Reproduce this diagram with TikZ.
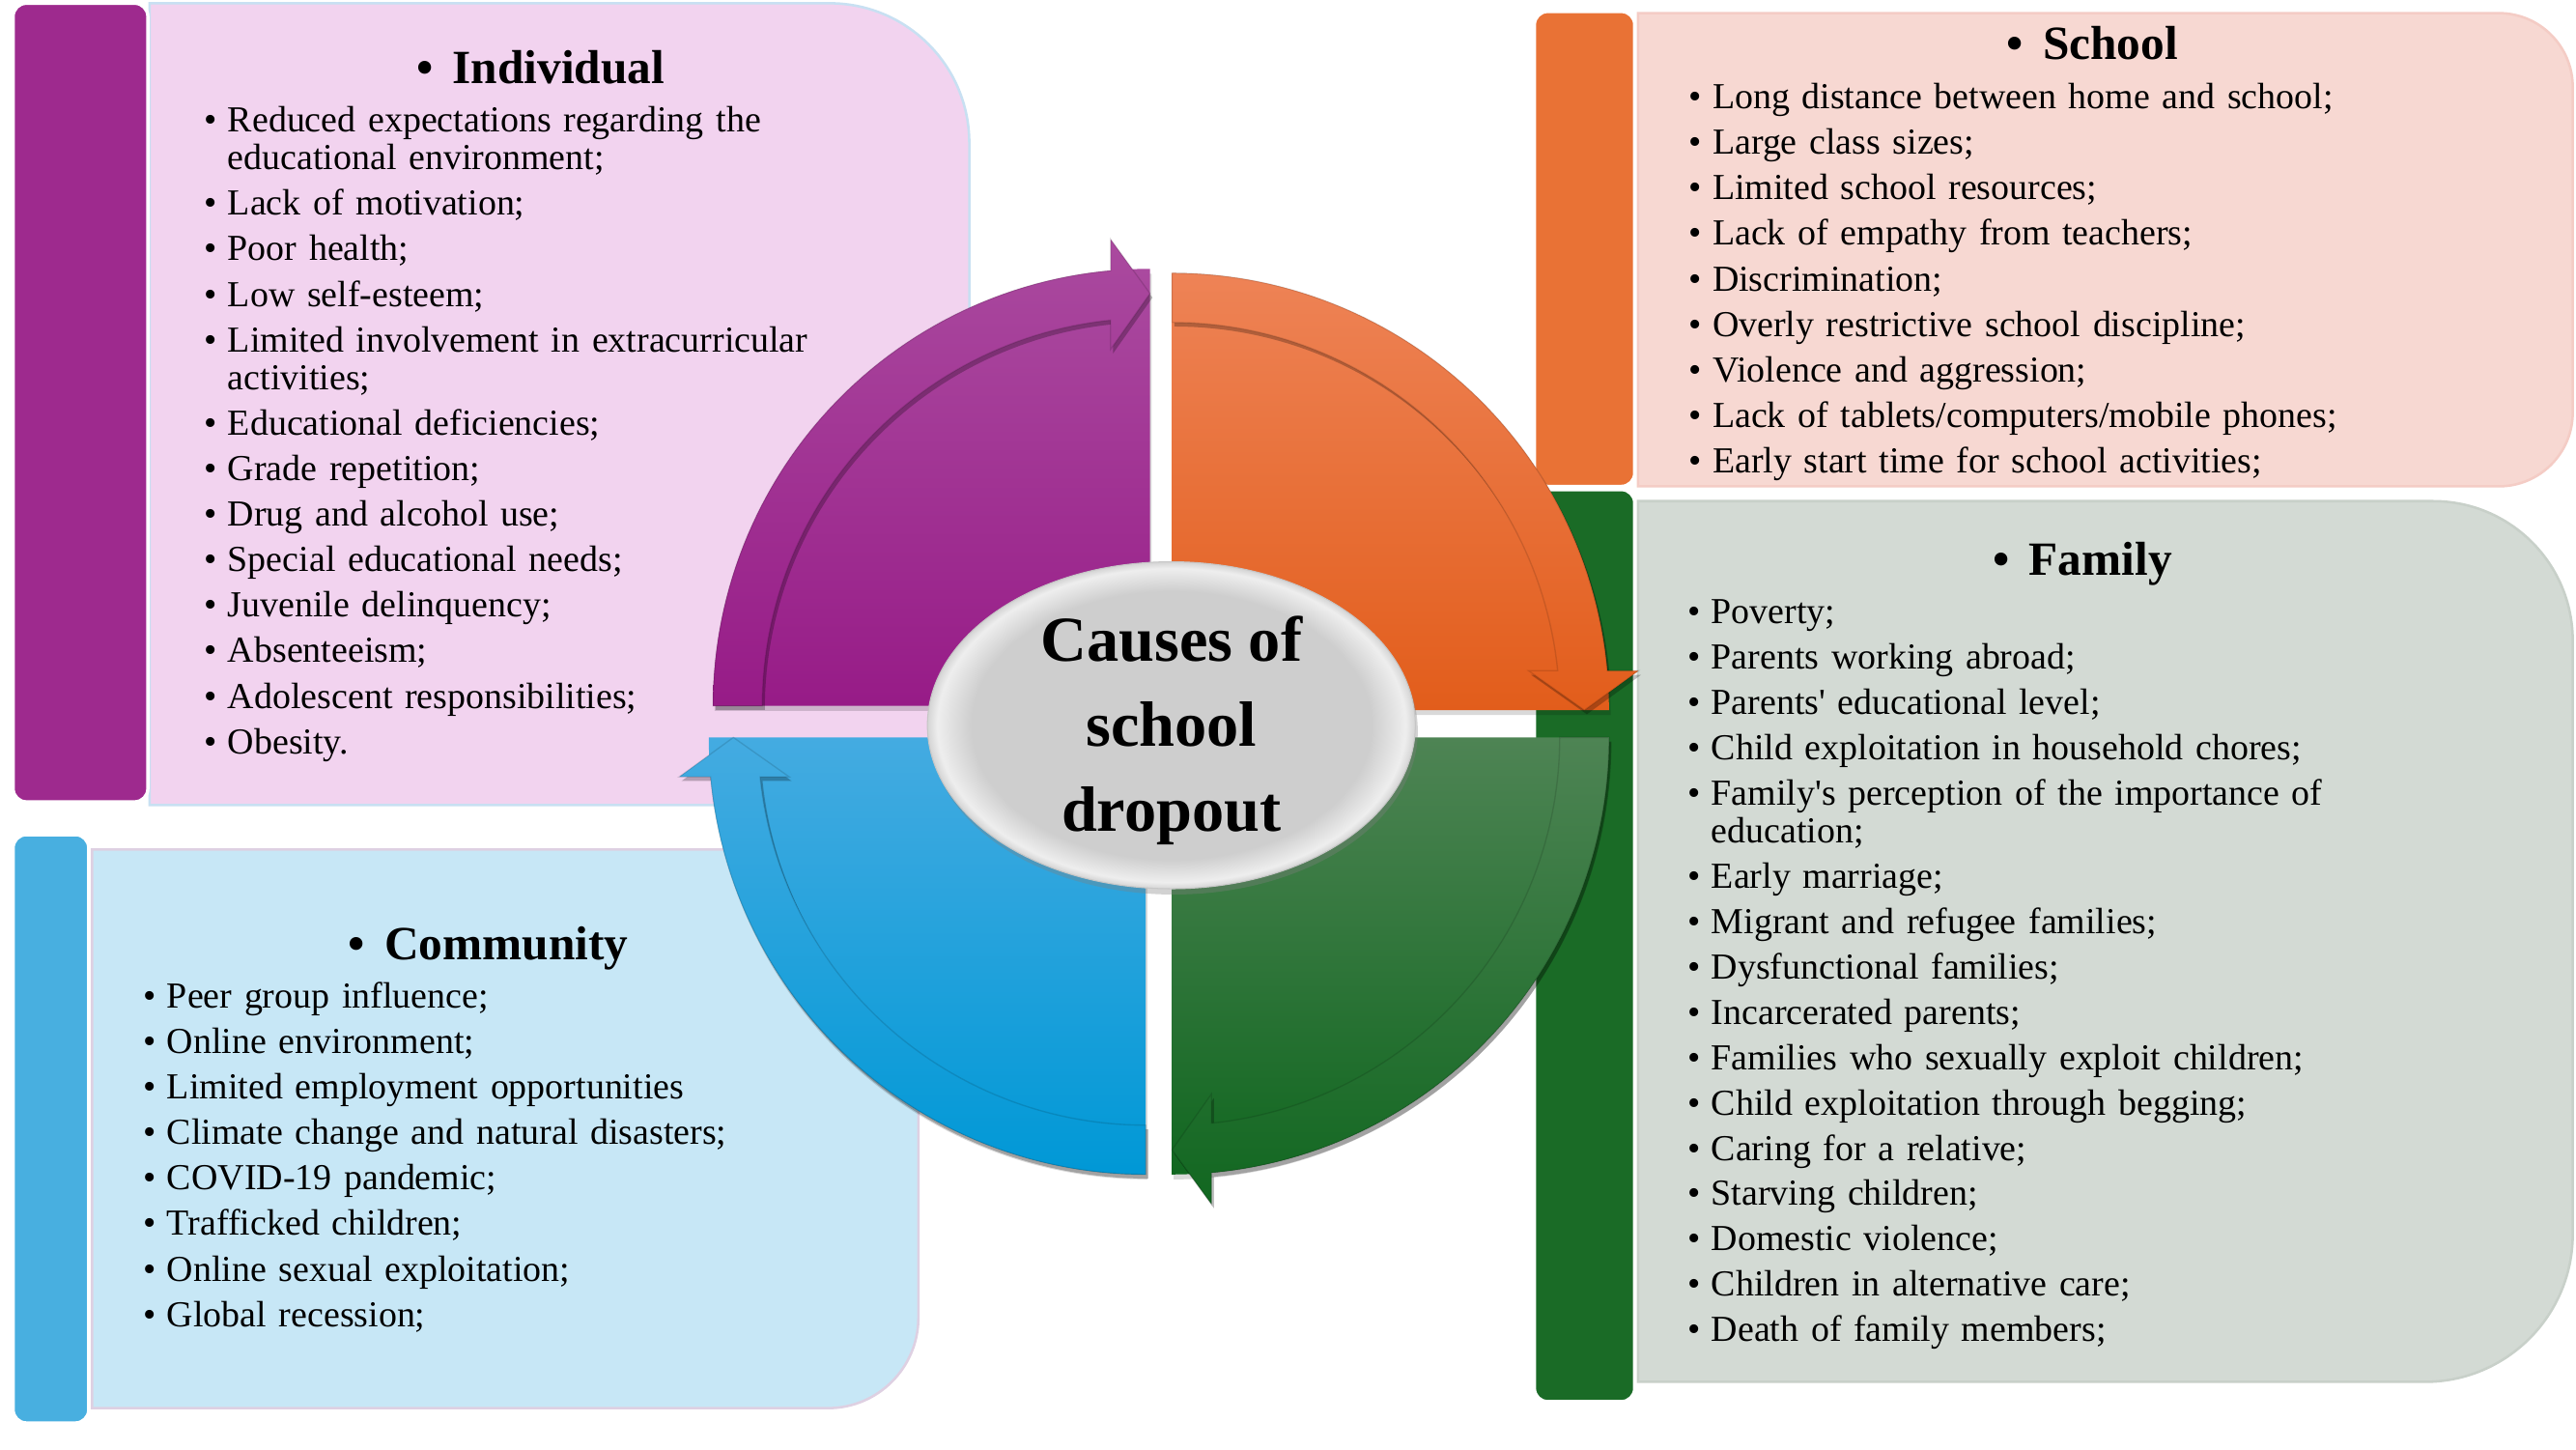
\documentclass[tikz,border=0pt]{standalone}
\usepackage{fontspec}
\setmainfont{Liberation Serif}
\usetikzlibrary{positioning,shapes.geometric,shadows}

\definecolor{indbar}{RGB}{158,42,142}
\definecolor{indfill}{RGB}{242,211,239}
\definecolor{indline}{RGB}{200,224,242}
\definecolor{schbar}{RGB}{233,114,53}
\definecolor{schfill}{RGB}{247,216,210}
\definecolor{schline}{RGB}{244,204,197}
\definecolor{fambar}{RGB}{26,107,38}
\definecolor{famfill}{RGB}{211,218,212}
\definecolor{famline}{RGB}{200,208,201}
\definecolor{combar}{RGB}{72,175,224}
\definecolor{comfill}{RGB}{199,231,246}
\definecolor{comline}{RGB}{222,208,226}
\definecolor{indtop}{RGB}{170,74,159}
\definecolor{indbot}{RGB}{151,27,135}
\definecolor{schtop}{RGB}{238,131,86}
\definecolor{schbot}{RGB}{226,93,27}
\definecolor{famtop}{RGB}{78,132,84}
\definecolor{fambot}{RGB}{17,103,32}
\definecolor{comtop}{RGB}{68,171,225}
\definecolor{combot}{RGB}{0,152,214}
\definecolor{coregray}{RGB}{206,206,206}
\definecolor{corerim}{RGB}{238,238,238}
\definecolor{coreedge}{RGB}{212,212,212}

\pgfdeclareradialshading{capsule}{\pgfpoint{0bp}{0bp}}{color(0bp)=(coregray); color(20.5bp)=(coregray); color(24bp)=(corerim); color(25bp)=(coreedge); color(50bp)=(coreedge)}

\newcommand{\itm}[1]{\hangindent=14.5pt\hangafter=1\makebox[14.5pt][l]{\textbullet}#1\par}

% one quarter of the cycle: corner x, corner y, start angle, top colour, bottom colour
\newcommand{\cyclepart}[5]{%
  \pgfmathsetmacro{\qE}{#3+90}%
  \pgfmathsetmacro{\qO}{#3+84.82}%
  \pgfmathsetmacro{\qI}{#3+84.16}%
  \pgfmathsetmacro{\qTx}{#1+251*cos(\qE)}%
  \pgfmathsetmacro{\qTy}{#2+251*sin(\qE)}%
  \pgfmathsetmacro{\qAx}{#1+284*cos(\qE)+24*cos(#3)}%
  \pgfmathsetmacro{\qAy}{#2+284*sin(\qE)+24*sin(#3)}%
  \pgfmathsetmacro{\qBx}{#1+217*cos(\qE)+24*cos(#3)}%
  \pgfmathsetmacro{\qBy}{#2+217*sin(\qE)+24*sin(#3)}%
  \fill[black, opacity=.15, shift={(1,3)}] (#1,#2) -- plot[domain=#3:\qE, samples=60] ({#1+266*cos(\x)},{#2+266*sin(\x)}) -- cycle;
  \shade[top color=#4, bottom color=#5] (#1,#2) -- plot[domain=#3:\qE, samples=60] ({#1+266*cos(\x)},{#2+266*sin(\x)}) -- cycle;
  \fill[black, opacity=.25, shift={(1.5,2.5)}] plot[domain=#3:\qO, samples=60] ({#1+266*cos(\x)},{#2+266*sin(\x)})
    -- (\qAx,\qAy) -- (\qTx,\qTy) -- (\qBx,\qBy) -- plot[domain=\qI:#3, samples=60] ({#1+236*cos(\x)},{#2+236*sin(\x)}) -- cycle;
  \shadedraw[top color=#4, bottom color=#5, draw=black, draw opacity=.12, line width=.8pt] plot[domain=#3:\qO, samples=60] ({#1+266*cos(\x)},{#2+266*sin(\x)})
    -- (\qAx,\qAy) -- (\qTx,\qTy) -- (\qBx,\qBy) -- plot[domain=\qI:#3, samples=60] ({#1+236*cos(\x)},{#2+236*sin(\x)}) -- cycle;
}

\begin{document}
\begin{tikzpicture}[x=1pt, y=-1pt,
    bar/.style={draw=white, line width=2pt, rounded corners=8pt},
    listtext/.style={anchor=base west, inner sep=0pt, text width=470pt, font=\fontsize{22.3}{23}\selectfont},
    headtext/.style={anchor=base, inner sep=0pt, font=\fontsize{29}{32}\selectfont\bfseries},
    core/.style={ellipse, minimum width=297pt, minimum height=199pt, inner sep=0pt,
        shade, shading=capsule, draw=gray!45, line width=.6pt,
        drop shadow={shadow xshift=1.5pt, shadow yshift=-3.5pt, opacity=.35}},
    coretext/.style={align=center, inner sep=0pt, font=\fontsize{39}{52}\selectfont\bfseries}]
    \fill[white] (0,0) rectangle (1568,882);
    \useasboundingbox (0,0) rectangle (1568,882);

    % panels
    \filldraw[fill=indfill, draw=indline, line width=1.5pt] (91,490) -- (91,2) -- (505,2) arc[start angle=90, end angle=0, radius=85pt] -- (590,490) -- cycle;
    \filldraw[fill=schfill, draw=schline, line width=1.5pt] (997,296) -- (997,8) -- (1521,8) arc[start angle=90, end angle=0, radius=45pt]
        -- (1566,251) arc[start angle=0, end angle=-90, radius=45pt] -- cycle;
    \filldraw[fill=famfill, draw=famline, line width=1.5pt] (997,841) -- (997,305) -- (1481,305) arc[start angle=90, end angle=0, radius=85pt]
        -- (1566,751) arc[start angle=0, end angle=-90, radius=90pt] -- cycle;
    \filldraw[fill=comfill, draw=comline, line width=1.5pt] (56,857) -- (56,517) -- (559,517) -- (559,802) arc[start angle=0, end angle=-90, radius=55pt] -- cycle;

    \filldraw[bar, fill=indbar] (8,2) rectangle (90,488);
    \filldraw[bar, fill=schbar] (934,7) rectangle (995,296);
    \filldraw[bar, fill=fambar] (934,298) rectangle (995,853);
    \filldraw[bar, fill=combar] (8,508) rectangle (54,866);

    \node[headtext] (indhead) at (329,51) {\textbullet\hspace{12pt}Individual};
    \node[listtext] (indlist) at (124,80.3) {\setlength{\parskip}{4.7pt}%
        \itm{Reduced expectations regarding the\newline educational environment;}
        \itm{Lack of motivation;}
        \itm{Poor health;}
        \itm{Low self-esteem;}
        \itm{Limited involvement in extracurricular\newline activities;}
        \itm{Educational deficiencies;}
        \itm{Grade repetition;}
        \itm{Drug and alcohol use;}
        \itm{Special educational needs;}
        \itm{Juvenile delinquency;}
        \itm{Absenteeism;}
        \itm{Adolescent responsibilities;}
        \itm{Obesity.}};

    \node[headtext] (schhead) at (1273.6,36.1) {\textbullet\hspace{12pt}School};
    \node[listtext] (schlist) at (1027.7,66.2) {\setlength{\parskip}{4.7pt}%
        \itm{Long distance between home and school;}
        \itm{Large class sizes;}
        \itm{Limited school resources;}
        \itm{Lack of empathy from teachers;}
        \itm{Discrimination;}
        \itm{Overly restrictive school discipline;}
        \itm{Violence and aggression;}
        \itm{Lack of tablets/computers/mobile phones;}
        \itm{Early start time for school activities;}};

    \node[headtext] (famhead) at (1267.5,350.3) {\textbullet\hspace{12pt}Family};
    \node[listtext] (famlist) at (1027,379.5) {\setlength{\parskip}{4.6pt}%
        \itm{Poverty;}
        \itm{Parents working abroad;}
        \itm{Parents\textquotesingle{} educational level;}
        \itm{Child exploitation in household chores;}
        \itm{Family\textquotesingle{}s perception of the importance of\newline education;}
        \itm{Early marriage;}
        \itm{Migrant and refugee families;}
        \itm{Dysfunctional families;}
        \itm{Incarcerated parents;}
        \itm{Families who sexually exploit children;}
        \itm{Child exploitation through begging;}
        \itm{Caring for a relative;}
        \itm{Starving children;}
        \itm{Domestic violence;}
        \itm{Children in alternative care;}
        \itm{Death of family members;}};

    \node[headtext] (comhead) at (297.2,584) {\textbullet\hspace{12pt}Community};
    \node[listtext] (comlist) at (87,613.4) {\setlength{\parskip}{4.7pt}%
        \itm{Peer group influence;}
        \itm{Online environment;}
        \itm{Limited employment opportunities}
        \itm{Climate change and natural disasters;}
        \itm{COVID-19 pandemic;}
        \itm{Trafficked children;}
        \itm{Online sexual exploitation;}
        \itm{Global recession;}};

    % the cycle
    \cyclepart{700}{429.6}{180}{indtop}{indbot}
    \cyclepart{713.4}{432.2}{270}{schtop}{schbot}
    \cyclepart{713.4}{448.8}{0}{famtop}{fambot}
    \cyclepart{697.4}{448.8}{90}{comtop}{combot}

    \node[core] (core) at (713,441.4) {};
    \node[coretext] (coretext) at (713,444.6) {Causes of\\school\\dropout};
\end{tikzpicture}
\end{document}
